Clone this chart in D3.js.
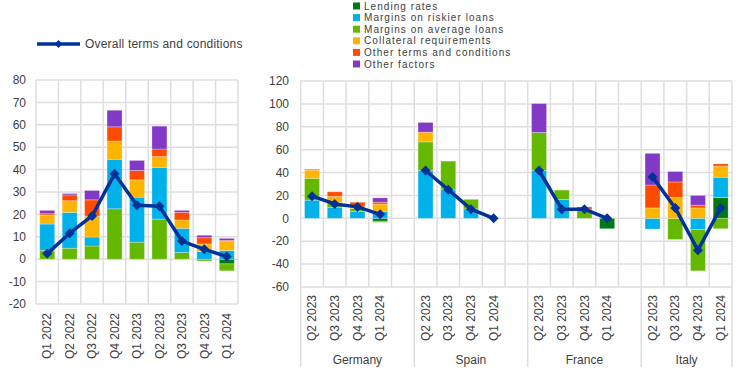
<!DOCTYPE html>
<html><head><meta charset="utf-8">
<script src="https://cdn.jsdelivr.net/npm/d3@7"></script>
<style>body{margin:0;background:#fff}svg{display:block;font-family:"Liberation Sans",Arial,sans-serif}</style>
</head><body><svg id="c" width="744" height="383"></svg>
<script>
// ---------- DATA ----------
const seriesNames = ["Lending rates","Margins on riskier loans","Margins on average loans","Collateral requirements","Other terms and conditions","Other factors"];
const seriesKeys = ["lending","riskier","average","collateral","otherTerms","otherFactors"];
const seriesColors = ["#007816","#00b1ea","#65b800","#ffb400","#ff4b00","#8139c6"];
const lineName = "Overall terms and conditions";

// Left panel: euro area
const leftCats = ["Q1 2022","Q2 2022","Q3 2022","Q4 2022","Q1 2023","Q2 2023","Q3 2023","Q4 2023","Q1 2024"];
const leftLending      = [0, 0, 0, 0, 0, 0, 0, 0, -2.1];
const leftRiskier      = [11.7, 16.0, 4.0, 22.1, 20.1, 23.1, 10.8, 3.4, 3.9];
const leftAverage      = [4.0, 4.9, 5.9, 22.5, 7.6, 17.9, 3.0, -0.8, -3.1];
const leftCollateral   = [4.0, 5.2, 9.4, 8.1, 7.7, 4.8, 3.7, 3.4, 4.0];
const leftOtherTerms   = [0.6, 2.6, 7.2, 6.4, 4.2, 3.4, 3.4, 2.8, 0.5];
const leftOtherFactors = [1.5, 0.6, 4.2, 7.4, 4.5, 10.2, 0.9, 1.1, 0.9];
const leftOverall      = [2.5, 11.6, 19.3, 38.1, 24.1, 23.6, 8.1, 4.4, 1.2];
const leftTicks = [-20,-10,0,10,20,30,40,50,60,70,80];

// Right panel: countries
const countries = ["Germany","Spain","France","Italy"];
const rightQuarters = ["Q2 2023","Q3 2023","Q4 2023","Q1 2024"];
// per country, 4 quarters each (Germany, Spain, France, Italy)
const rightLending      = [0,0,0,-2.5,   0,0,0,0,     0,0,0,-9.1,     0,0,0,18.2];
const rightRiskier      = [15.9,9.7,6.2,6.2, 41.8,25.0,8.3,0, 41.8,16.5,0,0, -9.4,0,-9.7,17.7];
const rightAverage      = [19.1,4.1,2.3,-1.0, 25.0,25.0,8.3,0, 33.2,8.2,8.0,0, 0,-18.5,-36.2,-9.1];
const rightCollateral   = [7.1,5.3,1.5,6.2, 8.5,0,0,0, 0,0,0,0, 9.1,18.2,9.1,9.7];
const rightOtherTerms   = [0.8,4.1,4.1,1.7, 0,0,0,0, 0,0,2.0,0, 20.0,13.6,2.4,2.0];
const rightOtherFactors = [0,0,0,3.8, 8.5,0,0,0, 25.3,0,0,0, 27.7,9.1,8.5,0];
const rightOverall      = [19.4,12.6,10.0,3.5, 41.8,25.0,8.0,0, 41.8,8.0,8.0,0, 36.2,9.1,-27.9,9.1];
const rightTicks = [-60,-40,-20,0,20,40,60,80,100,120];

// ---------- DRAW ----------
const svg = d3.select("#c");
const gridColor = "#dedede", textColor = "#404040", lineColor = "#003299";
const diamond = "M0,-5L5,0L0,5L-5,0Z";

function build(cats, arrs){
  return cats.map((c,i)=>{const o={cat:c}; seriesKeys.forEach((k,j)=>o[k]=arrs[j][i]); return o;});
}

// ---- Left panel ----
const L = {x0:36, x1:238, y0:80, y1:304};
const xL = d3.scaleBand().domain(leftCats).range([L.x0,L.x1]).paddingInner(0).paddingOuter(0);
const yL = d3.scaleLinear().domain([-20,80]).range([L.y1,L.y0]);
const gL = svg.append("g");
gL.selectAll("line.h").data(leftTicks).join("line").attr("x1",L.x0).attr("x2",L.x1)
  .attr("y1",d=>yL(d)).attr("y2",d=>yL(d)).attr("stroke",gridColor).attr("stroke-width",1.5);
gL.selectAll("line.v").data(d3.range(leftCats.length+1)).join("line")
  .attr("x1",i=>L.x0+i*xL.step()).attr("x2",i=>L.x0+i*xL.step())
  .attr("y1",L.y0).attr("y2",L.y1).attr("stroke",gridColor).attr("stroke-width",1.5);
gL.selectAll("text.yt").data(leftTicks).join("text").attr("x",26).attr("y",d=>yL(d)).attr("dy","0.35em")
  .attr("text-anchor","end").attr("font-size",12).attr("fill",textColor).text(d=>d);

const leftData = build(leftCats,[leftLending,leftRiskier,leftAverage,leftCollateral,leftOtherTerms,leftOtherFactors]);
const leftOrder = ["lending","average","riskier","collateral","otherTerms","otherFactors"];
const stL = d3.stack().keys(leftOrder).offset(d3.stackOffsetDiverging)(leftData);
const bwL = 15;
stL.forEach(s=>{
  const col = seriesColors[seriesKeys.indexOf(s.key)];
  gL.append("g").selectAll("rect").data(s.filter(d=>d[1]!==d[0])).join("rect")
    .attr("x",d=>xL(d.data.cat)+xL.bandwidth()/2-bwL/2).attr("width",bwL)
    .attr("y",d=>yL(Math.max(d[0],d[1]))).attr("height",d=>Math.abs(yL(d[0])-yL(d[1])))
    .attr("fill",col).attr("stroke","#fff").attr("stroke-opacity",0.35).attr("stroke-width",0.8);
});
const lineL = d3.line().x((d,i)=>xL(leftCats[i])+xL.bandwidth()/2).y(d=>yL(d));
gL.append("path").attr("d",lineL(leftOverall)).attr("fill","none").attr("stroke",lineColor).attr("stroke-width",3.5).attr("stroke-linejoin","round");
gL.selectAll("path.m").data(leftOverall).join("path").attr("d",diamond)
  .attr("transform",(d,i)=>`translate(${xL(leftCats[i])+xL.bandwidth()/2},${yL(d)})`).attr("fill",lineColor);
gL.selectAll("text.xt").data(leftCats).join("text")
  .attr("transform",d=>`translate(${xL(d)+xL.bandwidth()/2},313) rotate(-90)`)
  .attr("dy","0.35em").attr("text-anchor","end").attr("font-size",12).attr("fill",textColor).text(d=>d);

// left legend
svg.append("line").attr("x1",37).attr("x2",80).attr("y1",44).attr("y2",44).attr("stroke",lineColor).attr("stroke-width",3.5);
svg.append("path").attr("d",diamond).attr("transform","translate(58.5,44) scale(0.8)").attr("fill",lineColor);
svg.append("text").attr("x",85).attr("y",44).attr("dy","0.35em").attr("font-size",12).attr("letter-spacing",0.2)
  .attr("fill",textColor).text(lineName);

// ---- Right panel ----
const R = {x0:300.7, x1:732, y0:81, y1:287};
const slots = [];
countries.forEach((c,ci)=>{
  rightQuarters.forEach(q=>slots.push(c+"|"+q));
  if(ci<countries.length-1) slots.push(c+"|gap");
});
const xR = d3.scaleBand().domain(slots).range([R.x0,R.x1]).paddingInner(0).paddingOuter(0);
const yR = d3.scaleLinear().domain([-60,120]).range([R.y1,R.y0]);
const gR = svg.append("g");
gR.selectAll("line.h").data(rightTicks).join("line").attr("x1",R.x0).attr("x2",R.x1)
  .attr("y1",d=>yR(d)).attr("y2",d=>yR(d)).attr("stroke",gridColor).attr("stroke-width",1.5);
gR.selectAll("line.v").data(d3.range(slots.length+1)).join("line")
  .attr("x1",i=>R.x0+i*xR.step()).attr("x2",i=>R.x0+i*xR.step())
  .attr("y1",R.y0).attr("y2",R.y1).attr("stroke",gridColor).attr("stroke-width",1.5);
gR.selectAll("text.yt").data(rightTicks).join("text").attr("x",289).attr("y",d=>yR(d)).attr("dy","0.35em")
  .attr("text-anchor","end").attr("font-size",12).attr("fill",textColor).text(d=>d);

const rCats = [];
countries.forEach(c=>rightQuarters.forEach(q=>rCats.push(c+"|"+q)));
const rightData = build(rCats,[rightLending,rightRiskier,rightAverage,rightCollateral,rightOtherTerms,rightOtherFactors]);
const stR = d3.stack().keys(seriesKeys).offset(d3.stackOffsetDiverging)(rightData);
const bwR = 15;
stR.forEach(s=>{
  const col = seriesColors[seriesKeys.indexOf(s.key)];
  gR.append("g").selectAll("rect").data(s.filter(d=>d[1]!==d[0])).join("rect")
    .attr("x",d=>xR(d.data.cat)+xR.bandwidth()/2-bwR/2).attr("width",bwR)
    .attr("y",d=>yR(Math.max(d[0],d[1]))).attr("height",d=>Math.abs(yR(d[0])-yR(d[1])))
    .attr("fill",col).attr("stroke","#fff").attr("stroke-opacity",0.35).attr("stroke-width",0.8);
});
countries.forEach((c,ci)=>{
  const vals = rightOverall.slice(ci*4, ci*4+4);
  const ln = d3.line().x((d,i)=>xR(c+"|"+rightQuarters[i])+xR.bandwidth()/2).y(d=>yR(d));
  gR.append("path").attr("d",ln(vals)).attr("fill","none").attr("stroke",lineColor).attr("stroke-width",3.5).attr("stroke-linejoin","round");
  gR.append("g").selectAll("path").data(vals).join("path").attr("d",diamond)
    .attr("transform",(d,i)=>`translate(${xR(c+"|"+rightQuarters[i])+xR.bandwidth()/2},${yR(d)})`).attr("fill",lineColor);
});
// x labels
gR.selectAll("text.xt").data(rCats).join("text")
  .attr("transform",d=>`translate(${xR(d)+xR.bandwidth()/2},295) rotate(-90)`)
  .attr("dy","0.35em").attr("text-anchor","end").attr("font-size",12).attr("fill",textColor).text(d=>d.split("|")[1]);
// group separators & labels
const seps = [R.x0];
countries.forEach((c,ci)=>{
  const last = ci<countries.length-1 ? c+"|gap" : c+"|"+rightQuarters[3];
  seps.push(xR(last)+xR.step());
});
gR.selectAll("line.sep").data(seps).join("line").attr("x1",d=>d).attr("x2",d=>d)
  .attr("y1",R.y1).attr("y2",367).attr("stroke",gridColor).attr("stroke-width",1.5);
gR.selectAll("text.grp").data(countries).join("text")
  .attr("x",(c,i)=>(seps[i]+seps[i+1])/2).attr("y",364).attr("text-anchor","middle")
  .attr("font-size",12).attr("fill",textColor).text(d=>d);

// right legend
const lg = svg.append("g");
seriesNames.forEach((n,i)=>{
  const y = 6 + i*11.6;
  lg.append("rect").attr("x",353).attr("y",y-3.5).attr("width",7).attr("height",7).attr("fill",seriesColors[i]);
  lg.append("text").attr("x",364).attr("y",y).attr("dy","0.35em").attr("font-size",10).attr("letter-spacing",1.05)
    .attr("fill",textColor).text(n);
});
</script></body></html>
